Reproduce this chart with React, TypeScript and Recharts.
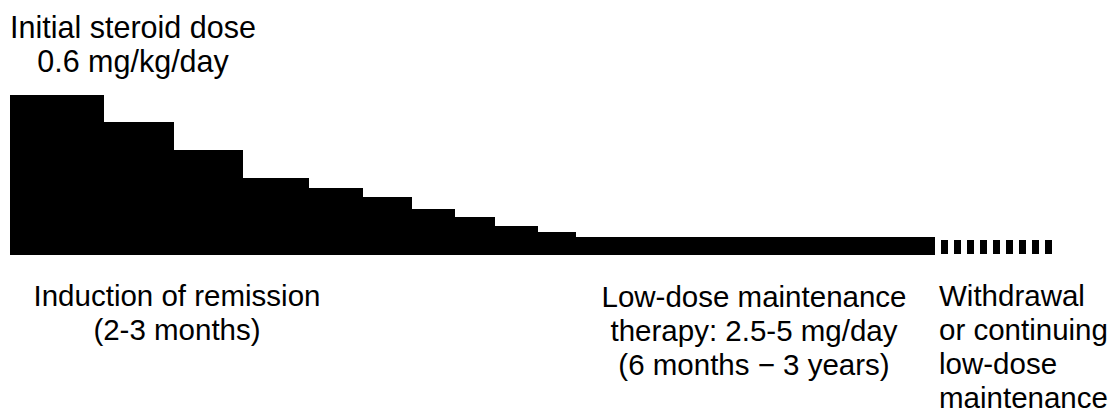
import { ComposedChart, Area, Line, XAxis, YAxis } from 'recharts'

// Step-down taper: start of each step (time units) and dose level (arbitrary units)
const stepStart = [0, 94, 164, 233, 299, 353, 402, 445, 485, 528, 566, 925]
const stepDose = [160, 133, 105, 77, 67, 58, 46, 38, 29, 23, 18, 18]

// Dotted tail: withdrawal or continuing low dose
const tailTime = [931, 1042]
const tailDose = [8, 8]

const topLabel = ['Initial steroid dose', '0.6 mg/kg/day']
const inductionLabel = ['Induction of remission', '(2-3 months)']
const maintenanceLabel = ['Low-dose maintenance', 'therapy: 2.5-5 mg/day', '(6 months \u2212 3 years)']
const withdrawalLabel = ['Withdrawal', 'or continuing', 'low-dose', 'maintenance']

const chartData = [
  ...stepStart.map((t, i) => ({ t, dose: stepDose[i] })),
  ...tailTime.map((t, i) => ({ t, tail: tailDose[i] })),
]

const FONT = '"Liberation Sans", Arial, sans-serif'

function TextBlock({
  lines,
  left,
  top,
  width,
  align,
  size = 29.5,
}: {
  lines: string[]
  left: number
  top: number
  width: number
  align: 'center' | 'left'
  size?: number
}) {
  return (
    <div
      style={{
        position: 'absolute',
        left,
        top,
        width,
        textAlign: align,
        fontFamily: FONT,
        fontSize: size,
        lineHeight: '34px',
        color: '#000',
        whiteSpace: 'nowrap',
      }}
    >
      {lines.map((l) => (
        <div key={l}>{l}</div>
      ))}
    </div>
  )
}

export default function App() {
  return (
    <div style={{ position: 'absolute', left: 0, top: 0, width: 1113, height: 414, background: '#fff', overflow: 'hidden' }}>
      <ComposedChart
        width={1113}
        height={414}
        data={chartData}
        margin={{ top: 95, right: 53, bottom: 159, left: 10 }}
      >
        <XAxis type="number" dataKey="t" domain={[0, 1050]} hide />
        <YAxis type="number" domain={[0, 160]} hide />
        <Area
          type="stepAfter"
          dataKey="dose"
          fill="#000"
          fillOpacity={1}
          stroke="none"
          isAnimationActive={false}
        />
        <Line
          type="linear"
          dataKey="tail"
          stroke="#000"
          strokeWidth={14}
          strokeDasharray="7 6"
          dot={false}
          activeDot={false}
          isAnimationActive={false}
        />
      </ComposedChart>
      <TextBlock lines={topLabel} left={0} top={10} width={266} align="center" size={30.5} />
      <TextBlock lines={inductionLabel} left={27} top={279} width={300} align="center" />
      <TextBlock lines={maintenanceLabel} left={594} top={280} width={320} align="center" />
      <TextBlock lines={withdrawalLabel} left={939} top={279} width={174} align="left" />
    </div>
  )
}
